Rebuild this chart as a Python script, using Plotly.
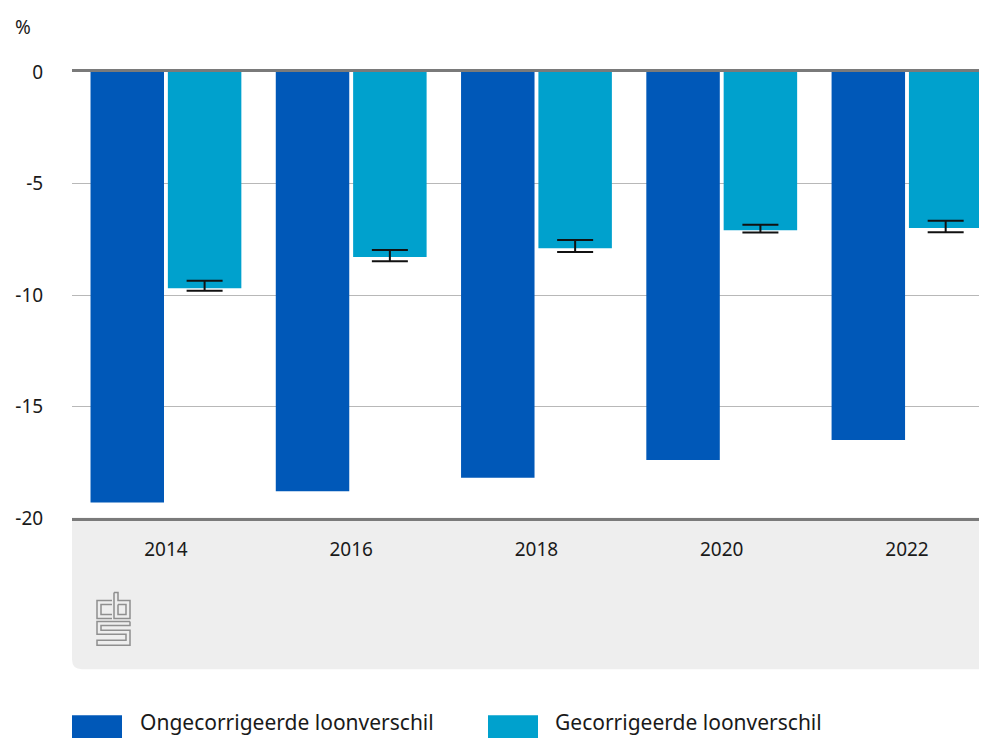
import plotly.graph_objects as go

# --- data ---
jaren = ["2014", "2016", "2018", "2020", "2022"]
ongecorrigeerd = [-19.3, -18.8, -18.2, -17.4, -16.5]
gecorrigeerd = [-9.7, -8.3, -7.9, -7.1, -7.0]
ci_boven = [-9.36, -7.98, -7.53, -6.85, -6.67]
ci_onder = [-9.81, -8.49, -8.07, -7.20, -7.19]

# --- style ---
kleur_ongecorr = "#0058B8"
kleur_gecorr = "#00A1CD"
tekst = "#1a1a1a"
lettertype = "Noto Sans"

# the page body adds an 8px offset, so work in screen pixels and shift back
OFF = 8
W, H = 987, 738
L, T = 72 - OFF, 72 - OFF
R = 0
B = H - (518.5 - OFF)
plot_w = W - L - R
plot_h = H - T - B


def px(x):
    return (x - OFF - L) / plot_w


def py(y):
    return (H - B - (y - OFF)) / plot_h


fig = go.Figure()

fig.add_trace(go.Bar(
    x=jaren, y=ongecorrigeerd, name="Ongecorrigeerde loonverschil",
    marker=dict(color=kleur_ongecorr, line=dict(width=0)),
))
fig.add_trace(go.Bar(
    x=jaren, y=gecorrigeerd, name="Gecorrigeerde loonverschil",
    marker=dict(color=kleur_gecorr, line=dict(width=0)),
    error_y=dict(
        type="data", symmetric=False,
        array=[b - v for b, v in zip(ci_boven, gecorrigeerd)],
        arrayminus=[v - o for v, o in zip(gecorrigeerd, ci_onder)],
        color="#111111", thickness=2, width=18,
    ),
))

shapes = []

# grey footer panel with rounded bottom-left corner
shapes.append(dict(
    type="path", xref="paper", yref="paper", layer="below",
    path=(f"M {px(72)},{py(518)} L {px(1000)},{py(518)} L {px(1000)},{py(670)} "
          f"L {px(82)},{py(670)} Q {px(72)},{py(670)} {px(72)},{py(660)} Z"),
    fillcolor="#EEEEEE", line=dict(width=0),
))

# cbs logo (outline drawing)
logo = dict(color="#8f8f8f", width=1.5)
logo_paths = [
    # c
    [(112, 601), (97, 601), (97, 619), (112, 619)],
    [(112, 605), (101, 605), (101, 615), (112, 615)],
    # b
    [(114, 593), (114, 619), (130, 619), (130, 601), (118, 601), (118, 593), (114, 593)],
    [(118, 605), (126, 605), (126, 615), (118, 615), (118, 605)],
    # s
    [(130, 622), (97, 622), (97, 635), (126, 635), (126, 641), (97, 641), (97, 646),
     (130, 646), (130, 631), (101, 631), (101, 626), (130, 626), (130, 622)],
]
for pts in logo_paths:
    p = "M " + " L ".join(f"{px(a)},{py(b)}" for a, b in pts)
    shapes.append(dict(type="path", xref="paper", yref="paper", path=p, line=logo))

# custom legend swatches
shapes.append(dict(type="rect", xref="paper", yref="paper",
                   x0=px(72), x1=px(122), y0=py(716), y1=py(750),
                   fillcolor=kleur_ongecorr, line=dict(width=0)))
shapes.append(dict(type="rect", xref="paper", yref="paper",
                   x0=px(488), x1=px(538), y0=py(716), y1=py(750),
                   fillcolor=kleur_gecorr, line=dict(width=0)))

annotations = [
    dict(text="%", xref="paper", yref="paper", x=px(13), y=py(27),
         xanchor="left", yanchor="middle", showarrow=False,
         font=dict(size=19, color=tekst, family=lettertype)),
    dict(text="Ongecorrigeerde loonverschil", xref="paper", yref="paper",
         x=px(138), y=py(723), xanchor="left", yanchor="middle", showarrow=False,
         font=dict(size=21, color=tekst, family=lettertype)),
    dict(text="Gecorrigeerde loonverschil", xref="paper", yref="paper",
         x=px(553), y=py(723), xanchor="left", yanchor="middle", showarrow=False,
         font=dict(size=21, color=tekst, family=lettertype)),
]

fig.update_layout(
    width=W, height=H,
    margin=dict(l=L, r=R, t=T, b=B, pad=0),
    paper_bgcolor="#FFFFFF", plot_bgcolor="#FFFFFF",
    barmode="group", bargap=0.165, bargroupgap=0.05,
    showlegend=False,
    font=dict(family=lettertype, size=19, color=tekst),
    shapes=shapes, annotations=annotations,
)

fig.update_xaxes(
    type="category", range=[-0.507, 4.475],
    showgrid=False, zeroline=False,
    showline=True, mirror=True, linecolor="#7a7a7a", linewidth=3,
    ticks="outside", ticklen=12, tickcolor="rgba(0,0,0,0)",
    tickfont=dict(size=19, color=tekst, family=lettertype),
)
fig.update_yaxes(
    range=[-20, 0], tickvals=[0, -5, -10, -15, -20],
    ticktext=["0", "-5", "-10", "-15", "-20"],
    showgrid=True, gridcolor="#b8b8b8", gridwidth=1.2,
    zeroline=False, showline=False,
    ticks="outside", ticklen=24, tickcolor="rgba(0,0,0,0)",
    tickfont=dict(size=19, color=tekst, family=lettertype),
)

fig.write_html("out.html")
